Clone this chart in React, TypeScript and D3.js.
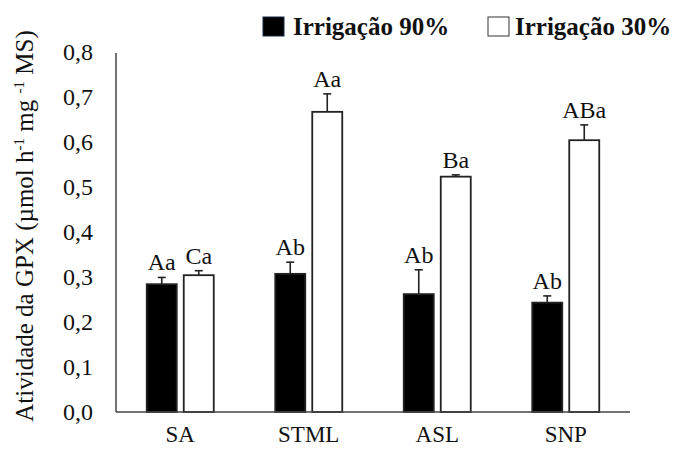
import React from "react";
import * as d3 from "d3";

const categories = ["SA", "STML", "ASL", "SNP"];
const seriesNames = ["Irrigação 90%", "Irrigação 30%"];
const irrig90 = [0.284, 0.307, 0.262, 0.243];
const irrig90Err = [0.015, 0.026, 0.054, 0.015];
const irrig90Letters = ["Aa", "Ab", "Ab", "Ab"];
const irrig30 = [0.304, 0.667, 0.523, 0.604];
const irrig30Err = [0.010, 0.040, 0.004, 0.034];
const irrig30Letters = ["Ca", "Aa", "Ba", "ABa"];
const yTicks = [0, 0.1, 0.2, 0.3, 0.4, 0.5, 0.6, 0.7, 0.8];

const W = 674;
const H = 449;
const FONT = "'Liberation Serif', 'Times New Roman', serif";

export default function App() {
  const left = 116;
  const right = 630;
  const top = 52;
  const bottom = 412;

  const x = d3.scaleBand<string>().domain(categories).range([left, right]).padding(0);
  const y = d3.scaleLinear().domain([0, 0.8]).range([bottom, top]);

  const barW = 30;
  const gap = 7;
  const series = [
    { vals: irrig90, errs: irrig90Err, letters: irrig90Letters, fill: "#000", offset: -(gap / 2 + barW) },
    { vals: irrig30, errs: irrig30Err, letters: irrig30Letters, fill: "#fff", offset: gap / 2 },
  ];

  return (
    <svg width={W} height={H} style={{ position: "absolute", left: 0, top: 0, background: "#fff" }}>
      {/* y tick labels */}
      {yTicks.map((t) => (
        <text key={t} x={93} y={y(t) + 8} textAnchor="end" fontFamily={FONT} fontSize={24} fill="#111">
          {d3.format(".1f")(t).replace(".", ",")}
        </text>
      ))}
      {/* y title */}
      <text
        transform={`translate(33, ${226}) rotate(-90)`}
        textAnchor="middle"
        fontFamily={FONT}
        fontSize={25}
        fill="#111"
      >
        Atividade da GPX (µmol h
        <tspan dy={-9} fontSize={15}>-1</tspan>
        <tspan dy={9}> mg </tspan>
        <tspan dy={-9} fontSize={15}>-1</tspan>
        <tspan dy={9}> MS)</tspan>
      </text>

      {/* bars, error bars and letters */}
      {categories.map((c, i) => {
        const cx = (x(c) as number) + x.bandwidth() / 2;
        return series.map((s, k) => {
          const bx = cx + s.offset;
          const v = s.vals[i];
          const e = s.errs[i];
          const mid = bx + barW / 2;
          return (
            <g key={c + k}>
              <line x1={mid} x2={mid} y1={y(v)} y2={y(v + e)} stroke="#222" strokeWidth={1.6} />
              <line x1={mid - 4} x2={mid + 4} y1={y(v + e)} y2={y(v + e)} stroke="#222" strokeWidth={1.6} />
              <rect x={bx} y={y(v)} width={barW} height={bottom - y(v)} fill={s.fill} stroke="#222" strokeWidth={1.8} />
              <text x={mid} y={y(v + e) - 7} textAnchor="middle" fontFamily={FONT} fontSize={24} fill="#111">
                {s.letters[i]}
              </text>
            </g>
          );
        });
      })}

      {/* axes */}
      <line x1={left} x2={left} y1={top + 1} y2={bottom} stroke="#444" strokeWidth={1.5} />
      <line x1={left} x2={right} y1={bottom} y2={bottom} stroke="#444" strokeWidth={1.5} />

      {/* x labels */}
      {categories.map((c) => (
        <text
          key={c}
          x={(x(c) as number) + x.bandwidth() / 2}
          y={442}
          textAnchor="middle"
          fontFamily={FONT}
          fontSize={23}
          fill="#111"
        >
          {c}
        </text>
      ))}

      {/* legend */}
      <rect x={263} y={17} width={21} height={19} fill="#000" stroke="#1a2a4a" strokeWidth={1} />
      <text x={293} y={35} fontFamily={FONT} fontSize={25} fontWeight="bold" fill="#111">
        {seriesNames[0]}
      </text>
      <rect x={488} y={17} width={21} height={19} fill="#fff" stroke="#333" strokeWidth={1} />
      <text x={515} y={35} fontFamily={FONT} fontSize={25} fontWeight="bold" fill="#111">
        {seriesNames[1]}
      </text>
    </svg>
  );
}
